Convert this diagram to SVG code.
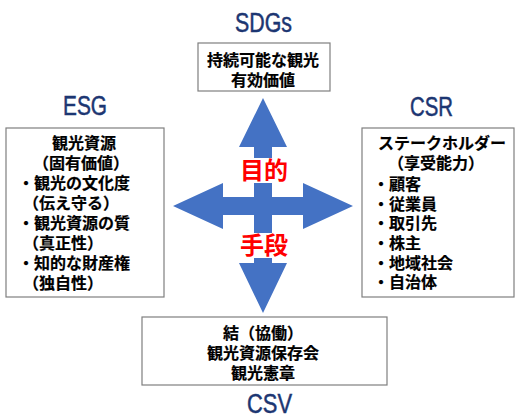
<svg xmlns="http://www.w3.org/2000/svg" width="515" height="419" viewBox="0 0 515 419">
<style>
.title{font-family:"Liberation Sans",Arial,sans-serif;font-size:27px;fill:#1C3672;stroke:#1C3672;stroke-width:0.5}
.box{fill:#fff;stroke:#7F7F7F;stroke-width:1.2}
.t{font-family:"Noto Sans CJK JP","Noto Sans",sans-serif;font-size:16px;font-weight:bold;fill:#000;stroke:#000;stroke-width:0.2}
.c{text-anchor:middle}
.red{font-family:"Noto Sans CJK JP",sans-serif;font-size:24px;font-weight:bold;fill:#FF0000;text-anchor:middle}
</style>
<rect width="515" height="419" fill="#fff"/>
<g id="connectors">
<polygon fill="#4472C4" points="263,98 287,147 272,147 272,197 303,197 303,183 353,206 303,229 303,215 272,215 272,263 287,263 263,313 239,263 254,263 254,215 223,215 223,229 173,206 223,183 223,197 254,197 254,147 239,147"/>
<rect x="240" y="158" width="48" height="25" fill="#fff"/>
<text class="red" x="264" y="179">目的</text>
<rect x="240" y="233" width="48" height="25" fill="#fff"/>
<text class="red" x="264" y="254">手段</text>
</g>
<g id="sdgs">
<text class="title" x="235" y="32" textLength="57" lengthAdjust="spacingAndGlyphs">SDGs</text>
<rect class="box" x="198" y="43" width="132" height="48"/>
<text class="t c" x="263" y="66">持続可能な観光</text>
<text class="t c" x="263" y="86">有効価値</text>
</g>
<g id="esg">
<text class="title" x="63" y="115" textLength="44" lengthAdjust="spacingAndGlyphs">ESG</text>
<rect class="box" x="6" y="128" width="158" height="169"/>
<text class="t c" x="84" y="149">観光資源</text>
<text class="t c" x="81" y="169">（固有価値）</text>
<text class="t" x="18" y="189">・観光の文化度</text>
<text class="t" x="23" y="209">（伝え守る）</text>
<text class="t" x="18" y="229">・観光資源の質</text>
<text class="t" x="23" y="249">（真正性）</text>
<text class="t" x="18" y="269">・知的な財産権</text>
<text class="t" x="23" y="289">（独自性）</text>
</g>
<g id="csr">
<text class="title" x="410" y="116" textLength="43" lengthAdjust="spacingAndGlyphs">CSR</text>
<rect class="box" x="362" y="128" width="152" height="169"/>
<text class="t" x="378" y="149">ステークホルダー</text>
<text class="t" x="388" y="169">（享受能力）</text>
<text class="t" x="373" y="190">・顧客</text>
<text class="t" x="373" y="210">・従業員</text>
<text class="t" x="373" y="229">・取引先</text>
<text class="t" x="373" y="249">・株主</text>
<text class="t" x="373" y="269">・地域社会</text>
<text class="t" x="373" y="288">・自治体</text>
</g>
<g id="csv">
<rect class="box" x="142" y="317" width="245" height="68"/>
<text class="t c" x="263" y="339">結（協働）</text>
<text class="t c" x="263" y="359">観光資源保存会</text>
<text class="t c" x="263" y="379">観光憲章</text>
<text class="title" x="247" y="413" textLength="45" lengthAdjust="spacingAndGlyphs">CSV</text>
</g>
</svg>
